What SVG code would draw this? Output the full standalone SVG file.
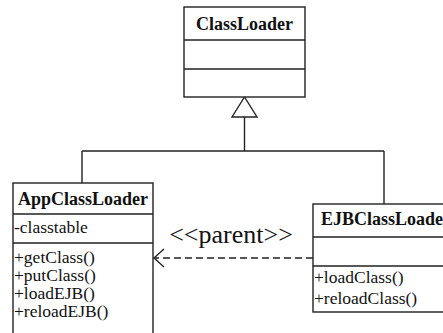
<svg xmlns="http://www.w3.org/2000/svg" width="443" height="333" viewBox="0 0 443 333">
<defs>
<style>
.box{fill:#fff;stroke:#222;stroke-width:1.4}
.ln{fill:none;stroke:#222;stroke-width:1.4}
text{font-family:'Liberation Serif','DejaVu Serif',serif;fill:#111}
.title{font-weight:bold;font-size:18px}
.mem{font-size:17.5px}
.st{font-size:26px}
</style>
<marker id="open" viewBox="0 0 12 20" refX="11" refY="10" markerWidth="12" markerHeight="20" markerUnits="userSpaceOnUse" orient="auto">
<path d="M1,1 L11,10 L1,19" fill="none" stroke="#222" stroke-width="1.4"/>
</marker>
</defs>
<rect width="443" height="333" fill="#fff"/>
<g id="connectors">
<path class="ln" d="M244.5,117 V151 M82,151 H384 M82,151 V183 M384,151 V204"/>
<polygon class="box" points="244.5,97 232,117 257,117"/>
<path class="ln" d="M313,258 H154" stroke-dasharray="7,4" marker-end="url(#open)"/>
<text class="st" x="231" y="243" text-anchor="middle">&lt;&lt;parent&gt;&gt;</text>
</g>
<g id="ClassLoader">
<rect class="box" x="184" y="7" width="121" height="90"/>
<path class="ln" d="M184,40 H305 M184,69 H305"/>
<text class="title" x="244.5" y="30" text-anchor="middle">ClassLoader</text>
</g>
<g id="AppClassLoader">
<rect class="box" x="13" y="183" width="140" height="160"/>
<path class="ln" d="M13,214 H153 M13,243 H153"/>
<text class="title" x="83" y="205" text-anchor="middle">AppClassLoader</text>
<text class="mem" x="14" y="233">-classtable</text>
<text class="mem" x="14" y="263">+getClass()</text>
<text class="mem" x="14" y="281">+putClass()</text>
<text class="mem" x="14" y="299">+loadEJB()</text>
<text class="mem" x="14" y="317">+reloadEJB()</text>
</g>
<g id="EJBClassLoader">
<rect class="box" x="313" y="204" width="145" height="108"/>
<path class="ln" d="M313,237 H458 M313,266 H458"/>
<text class="title" x="321" y="225">EJBClassLoader</text>
<text class="mem" x="314" y="283">+loadClass()</text>
<text class="mem" x="314" y="304">+reloadClass()</text>
</g>
</svg>
